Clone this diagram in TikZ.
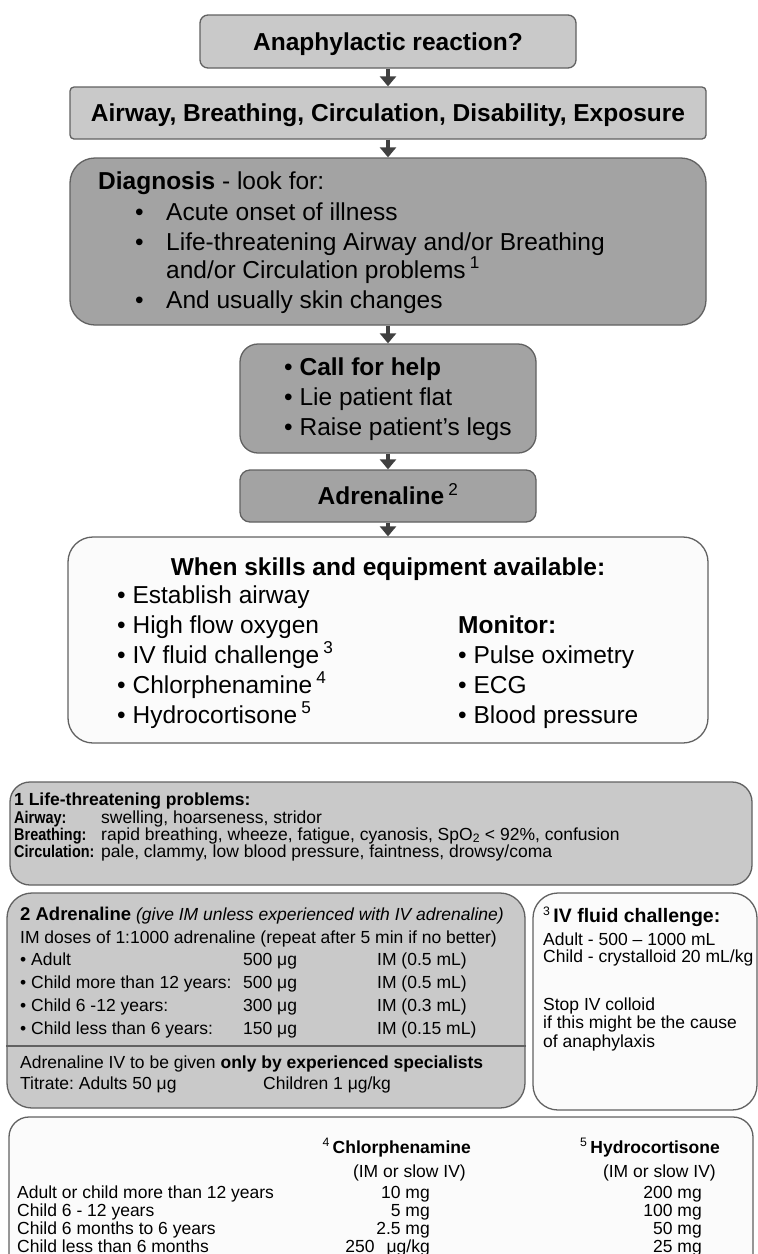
\documentclass[tikz,border=0pt]{standalone}
\usepackage{fontspec}
\setmainfont{Liberation Sans}
\usetikzlibrary{arrows.meta}
\definecolor{boxA}{gray}{0.79}
\definecolor{boxB}{gray}{0.64}
\definecolor{boxW}{gray}{0.985}
\definecolor{edgec}{gray}{0.38}
\definecolor{arrc}{gray}{0.25}
\newcommand\narrowlab[1]{\scalebox{0.85}[1]{\textbf{#1}}}
\begin{document}
\frenchspacing
\begin{tikzpicture}[x=1pt,y=-1pt,
  frame/.style={draw=edgec, line width=1.3pt, inner sep=0pt},
  bigf/.style={font=\fontsize{24.5}{29}\selectfont},
  smf/.style={font=\fontsize{17.5}{18}\selectfont},
  labf/.style={font=\fontsize{17}{18}\selectfont},
  tl/.style={anchor=base west, inner sep=0pt},
  tr/.style={anchor=base east, inner sep=0pt},
  flow/.style={-{Triangle[length=10pt,width=16pt]}, line width=4pt, draw=arrc}]
\useasboundingbox (0,0) rectangle (758,1254);
\fill[white] (0,0) rectangle (758,1254);

% ---------- flow chart ----------
\node[frame, fill=boxA, rounded corners=8pt, minimum width=376pt, minimum height=53pt,
      bigf, text height=17.5pt, text depth=0pt] (b1) at (388,41.5) {\textbf{Anaphylactic reaction?}};
\node[frame, fill=boxA, rounded corners=4pt, minimum width=636pt, minimum height=52pt,
      bigf, text height=17.5pt, text depth=0pt] (b2) at (388,113) {\textbf{Airway, Breathing, Circulation, Disability, Exposure}};
\node[frame, fill=boxB, rounded corners=25pt, minimum width=636pt, minimum height=167pt] (b3) at (388,241.5) {};
\node[frame, fill=boxB, rounded corners=18pt, minimum width=296pt, minimum height=109pt] (b4) at (388,398.5) {};
\node[frame, fill=boxB, rounded corners=10pt, minimum width=296pt, minimum height=52pt,
      bigf, text height=17.5pt, text depth=0pt] (b5) at (388,496) {\textbf{Adrenaline}\,\textsuperscript{2}};
\node[frame, fill=boxW, rounded corners=25pt, minimum width=640pt, minimum height=206pt] (b6) at (388,640) {};

\draw[flow] (b1.south) -- (b2.north);
\draw[flow] (b2.south) -- (b3.north);
\draw[flow] (b3.south) -- (b4.north);
\draw[flow] (b4.south) -- (b5.north);
\draw[flow] (b5.south) -- (b6.north);

% diagnosis
\node[tl, bigf] (d0) at (98,189) {\textbf{Diagnosis} - look for:};
\node[tl, bigf] (d1b) at (135,220) {•};
\node[tl, bigf] (d1) at (166,220) {Acute onset of illness};
\node[tl, bigf] (d2b) at (135,250) {•};
\node[tl, bigf] (d2) at (166,250) {Life-threatening Airway and/or Breathing};
\node[tl, bigf] (d3) at (166,278) {and/or Circulation problems\,\textsuperscript{1}};
\node[tl, bigf] (d4b) at (135,308) {•};
\node[tl, bigf] (d4) at (166,308) {And usually skin changes};

% call for help
\node[tl, bigf] (c1) at (284,375) {• \textbf{Call for help}};
\node[tl, bigf] (c2) at (284,405) {• Lie patient flat};
\node[tl, bigf] (c3) at (284,435) {• Raise patient's legs};

% skills
\node[anchor=base, inner sep=0pt, bigf] (s0) at (388,575) {\textbf{When skills and equipment available:}};
\node[tl, bigf] (s1) at (117,603) {• Establish airway};
\node[tl, bigf] (s2) at (117,633) {• High flow oxygen};
\node[tl, bigf] (s3) at (117,663) {• IV fluid challenge\,\textsuperscript{3}};
\node[tl, bigf] (s4) at (117,693) {• Chlorphenamine\,\textsuperscript{4}};
\node[tl, bigf] (s5) at (117,723) {• Hydrocortisone\,\textsuperscript{5}};
\node[tl, bigf] (m0) at (458,633) {\textbf{Monitor:}};
\node[tl, bigf] (m1) at (458,663) {• Pulse oximetry};
\node[tl, bigf] (m2) at (458,693) {• ECG};
\node[tl, bigf] (m3) at (458,723) {• Blood pressure};

% ---------- notes ----------
\node[frame, fill=boxA, rounded corners=20pt, minimum width=742pt, minimum height=103pt] (n1) at (381,833.5) {};
\node[tl, smf] (n1a) at (14,805) {\textbf{1 Life-threatening problems:}};
\node[tl, labf] (n1b) at (14,823) {\narrowlab{Airway:}};
\node[tl, smf] (n1c) at (101,823) {swelling, hoarseness, stridor};
\node[tl, labf] (n1d) at (14,840) {\narrowlab{Breathing:}};
\node[tl, smf] (n1e) at (101,840) {rapid breathing, wheeze, fatigue, cyanosis, SpO\textsubscript{2} < 92\%, confusion};
\node[tl, labf] (n1f) at (14,857) {\narrowlab{Circulation:}};
\node[tl, smf] (n1g) at (101,857) {pale, clammy, low blood pressure, faintness, drowsy/coma};

\node[frame, fill=boxA, rounded corners=25pt, minimum width=518pt, minimum height=215pt] (n2) at (266,1000.5) {};
\draw[draw=edgec, line width=1.3pt] (n2.west |- 0,1046) -- (n2.east |- 0,1046);
\node[tl, smf] (n2a) at (20,920) {{\fontsize{18.5}{18}\selectfont\textbf{2 Adrenaline}} \textit{(give IM unless experienced with IV adrenaline)}};
\node[tl, smf] (n2b) at (20,943) {IM doses of 1:1000 adrenaline (repeat after 5 min if no better)};
\node[tl, smf] (r1a) at (20,965) {• Adult};
\node[tl, smf] (r1b) at (243,965) {500 μg};
\node[tl, smf] (r1c) at (377,965) {IM (0.5 mL)};
\node[tl, smf] (r2a) at (20,988) {• Child more than 12 years:};
\node[tl, smf] (r2b) at (243,988) {500 μg};
\node[tl, smf] (r2c) at (377,988) {IM (0.5 mL)};
\node[tl, smf] (r3a) at (20,1011) {• Child 6 -12 years:};
\node[tl, smf] (r3b) at (243,1011) {300 μg};
\node[tl, smf] (r3c) at (377,1011) {IM (0.3 mL)};
\node[tl, smf] (r4a) at (20,1034) {• Child less than 6 years:};
\node[tl, smf] (r4b) at (243,1034) {150 μg};
\node[tl, smf] (r4c) at (377,1034) {IM (0.15 mL)};
\node[tl, smf] (n2c) at (20,1068) {Adrenaline IV to be given \textbf{only by experienced specialists}};
\node[tl, smf] (n2d) at (20,1089) {Titrate: Adults 50 μg};
\node[tl, smf] (n2e) at (263,1089) {Children 1 μg/kg};

\node[frame, fill=boxW, rounded corners=25pt, minimum width=224pt, minimum height=217pt] (n3) at (645,1001.5) {};
\node[tl, smf] (n3a) at (543,922) {\textsuperscript{3}\,{\fontsize{19.5}{18}\selectfont\textbf{IV fluid challenge:}}};
\node[tl, smf] (n3b) at (543,945) {Adult - 500 – 1000 mL};
\node[tl, smf] (n3c) at (543,962) {Child - crystalloid 20 mL/kg};
\node[tl, smf] (n3d) at (543,1010) {Stop IV colloid};
\node[tl, smf] (n3e) at (543,1028) {if this might be the cause};
\node[tl, smf] (n3f) at (543,1047) {of anaphylaxis};

\node[frame, fill=boxW, rounded corners=20pt, minimum width=744pt, minimum height=163pt] (n4) at (381,1198.5) {};
\node[tr, smf] (h4a) at (471,1153) {\textsuperscript{4}\,\textbf{Chlorphenamine}};
\node[tr, smf] (h4b) at (466,1177) {(IM or slow IV)};
\node[tr, smf] (h5a) at (720,1153) {\textsuperscript{5}\,\textbf{Hydrocortisone}};
\node[tr, smf] (h5b) at (716,1177) {(IM or slow IV)};
\node[tl, smf] (q1) at (17,1198) {Adult or child more than 12 years};
\node[tl, smf] (q2) at (17,1216) {Child 6 - 12 years};
\node[tl, smf] (q3) at (17,1234) {Child 6 months to 6 years};
\node[tl, smf] (q4) at (17,1252) {Child less than 6 months};
\node[tr, smf] (v1) at (430,1198) {10 mg};
\node[tr, smf] (v2) at (430,1216) {5 mg};
\node[tr, smf] (v3) at (430,1234) {2.5 mg};
\node[tr, smf] (v4) at (430,1252) {250\hspace{12pt}μg/kg};
\node[tr, smf] (w1) at (702,1198) {200 mg};
\node[tr, smf] (w2) at (702,1216) {100 mg};
\node[tr, smf] (w3) at (702,1234) {50 mg};
\node[tr, smf] (w4) at (702,1252) {25 mg};
\end{tikzpicture}
\end{document}
